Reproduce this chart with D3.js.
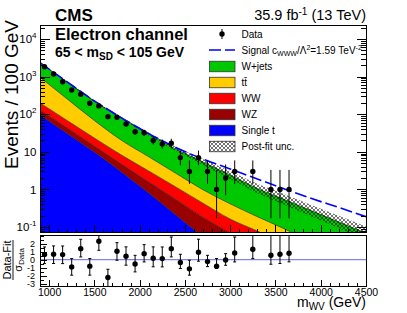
<!DOCTYPE html>
<html>
<head>
<meta charset="utf-8">
<script src="https://cdn.jsdelivr.net/npm/d3@7"></script>
<style>
	body { margin: 0; background: #fff; }
	text { font-family: "Liberation Sans", Arial, Helvetica, sans-serif; }
</style>
</head>
<body>
<svg id="chart" width="407" height="313"></svg>
<script>
// background templates, read at these mass points (GeV)
var massGrid = [900, 1200, 1500, 1800, 2100, 2400, 2700, 3000, 3300, 3600, 3900, 4200, 4500];
var singleT = [95, 30.7, 9.9, 2.9, 0.80, 0.21, 0.054, 0.014, 0.004, 0.001, 0.0003, 0.0001, 0.00003];
var wz      = [34, 12.3, 4.4, 1.8, 0.77, 0.33, 0.125, 0.055, 0.021, 0.008, 0.0027, 0.0009, 0.0004];
var ww      = [70, 25, 9.0, 3.5, 1.53, 0.62, 0.25, 0.094, 0.053, 0.026, 0.012, 0.006, 0.0026];
var ttbar   = [759, 186, 44.7, 12, 4.3, 1.52, 0.55, 0.25, 0.11, 0.054, 0.025, 0.013, 0.007];
var wjets   = [1386, 464, 156, 59, 22.3, 9.2, 4.4, 2.0, 0.87, 0.45, 0.23, 0.116, 0.059];
var signal  = [2350, 720, 226, 80, 30.5, 13.0, 6.4, 3.5, 1.89, 1.03, 0.57, 0.33, 0.188];
var uncRel  = [0.03, 0.04, 0.05, 0.07, 0.10, 0.14, 0.20, 0.27, 0.33, 0.38, 0.42, 0.46, 0.50];

// data, bin centres of 100 GeV bins
var dataMass  = [950, 1050, 1150, 1250, 1350, 1450, 1550, 1650, 1750, 1850, 1950, 2050, 2150, 2250, 2350, 2450, 2550, 2650, 2750, 2850, 2950, 3050, 3250, 3450, 3550, 3650];
var dataCount = [1820, 1170, 727, 440, 338, 195, 166, 86, 83, 55, 34, 32, 20, 16, 17, 7, 3, 7, 3, 1, 2, 3, 3, 1, 1, 1];
var dataErrLo = [42.7, 34.2, 27.0, 21.0, 18.4, 14.0, 12.9, 9.3, 9.1, 7.4, 5.8, 5.6, 4.4, 4.0, 4.1, 2.6, 1.6, 2.6, 1.6, 0.83, 1.3, 1.6, 1.6, 0.83, 0.83, 0.83];
var dataErrHi = [43.2, 34.7, 27.5, 21.5, 18.9, 14.5, 13.4, 10.3, 10.1, 8.5, 6.9, 6.7, 5.5, 5.1, 5.2, 3.8, 2.9, 3.8, 2.9, 2.3, 2.6, 2.9, 2.9, 2.3, 2.3, 2.3];

// (data - fit) / sigma_data
var pullVal   = [0.64, 0.69, 0.64, -0.90, 1.39, -0.81, 2.31, -2.24, 1.06, 0.44, -0.53, 0.76, 0.19, 0.14, 1.39, -0.36, -1.15, 0.94, -0.24, -0.81, -0.03, 0.85, 1.31, 0.56, 0.69, 0.81];
var pullErrUp = [0.96, 1.04, 1.08, 1.04, 1.17, 0.96, 1.0, 1.04, 1.08, 1.17, 1.08, 1.13, 1.42, 1.46, 1.46, 1.04, 1.08, 1.63, 0.79, 0.96, 0.79, 2.0, 2.3, 2.9, 2.9, 2.9];
var pullErrDn = [1.13, 1.17, 1.13, 1.04, 1.04, 1.13, 1.13, 1.17, 1.13, 1.13, 1.0, 1.04, 1.08, 1.04, 1.04, 0.75, 0.79, 1.13, 0.63, 0.29, 0.67, 1.13, 1.17, 1.13, 1.17, 1.08];

// tick labels
var xTicks = [1000, 1500, 2000, 2500, 3000, 3500, 4000, 4500];
var yTickVals = [0.1, 1, 10, 100, 1000, 10000];
var yTickBase = ['10', '1', '10', '10', '10', '10'];
var yTickExp  = ['-1', '', '', '2', '3', '4'];
var pullTicks = [-3, -2, -1, 0, 1, 2];

var svg = d3.select('#chart');
var left = 40, right = 366, mainTop = 25, mainBottom = 232, ratioTop = 235, ratioBottom = 286;

var x = d3.scaleLinear().domain([900, 4500]).range([left, right]);
var y = d3.scaleLog().domain([0.0736, 23550]).range([mainBottom, mainTop]);
var yr = d3.scaleLinear().domain([-3.3, 3.1]).range([ratioBottom, ratioTop]);

var defs = svg.append('defs');
defs.append('clipPath').attr('id', 'clipMain').append('rect')
	.attr('x', left).attr('y', mainTop).attr('width', right - left).attr('height', mainBottom - mainTop);
defs.append('clipPath').attr('id', 'clipRatio').append('rect')
	.attr('x', left).attr('y', ratioTop).attr('width', right - left).attr('height', ratioBottom - ratioTop);
var pat = defs.append('pattern').attr('id', 'hatch').attr('patternUnits', 'userSpaceOnUse')
	.attr('width', 4).attr('height', 4);
pat.append('path').attr('d', 'M0,0L4,4M4,0L0,4').attr('stroke', '#000').attr('stroke-width', 0.55);

// stacked backgrounds
var keys = ['singleT', 'wz', 'ww', 'ttbar', 'wjets'];
var colors = { singleT: '#0000ff', wz: '#990000', ww: '#ff0000', ttbar: '#ffcc00', wjets: '#00c800' };
var rows = massGrid.map(function(m, i) {
	return { m: m, singleT: singleT[i], wz: wz[i], ww: ww[i], ttbar: ttbar[i], wjets: wjets[i] };
});
var series = d3.stack().keys(keys)(rows);
var floor = 1e-4;

var area = d3.area().curve(d3.curveMonotoneX)
	.x(function(d) { return x(d.data.m); })
	.y0(function(d) { return y(Math.max(d[0], floor)); })
	.y1(function(d) { return y(Math.max(d[1], floor)); });
var topLine = d3.line().curve(d3.curveMonotoneX)
	.x(function(d) { return x(d.data.m); })
	.y(function(d) { return y(Math.max(d[1], floor)); });

var plot = svg.append('g').attr('clip-path', 'url(#clipMain)');
plot.selectAll('.layer').data(series).enter().append('path')
	.attr('class', 'layer')
	.attr('d', area)
	.attr('fill', function(d) { return colors[d.key]; });
plot.selectAll('.edge').data(series).enter().append('path')
	.attr('class', 'edge')
	.attr('d', topLine)
	.attr('fill', 'none').attr('stroke', '#1a1a1a').attr('stroke-width', 0.6);

// post-fit uncertainty band
var total = massGrid.map(function(m, i) { return singleT[i] + wz[i] + ww[i] + ttbar[i] + wjets[i]; });
var band = d3.area().curve(d3.curveMonotoneX)
	.x(function(d, i) { return x(massGrid[i]); })
	.y0(function(d, i) { return y(d / (1 + uncRel[i])); })
	.y1(function(d, i) { return y(d * (1 + uncRel[i])); });
plot.append('path').datum(total).attr('d', band).attr('fill', 'url(#hatch)');

// signal
var sigLine = d3.line().curve(d3.curveMonotoneX)
	.x(function(d, i) { return x(massGrid[i]); })
	.y(function(d) { return y(d); });
plot.append('path').datum(signal).attr('d', sigLine)
	.attr('fill', 'none').attr('stroke', '#0000ff').attr('stroke-width', 1.6).attr('stroke-dasharray', '12,4');

// data points
var pts = svg.append('g').attr('clip-path', 'url(#clipMain)');
pts.selectAll('.err').data(dataMass).enter().append('line')
	.attr('x1', function(d) { return x(d); }).attr('x2', function(d) { return x(d); })
	.attr('y1', function(d, i) { return y(dataCount[i] - dataErrLo[i]); })
	.attr('y2', function(d, i) { return y(dataCount[i] + dataErrHi[i]); })
	.attr('stroke', '#000').attr('stroke-width', 1);
pts.selectAll('circle').data(dataMass).enter().append('circle')
	.attr('cx', function(d) { return x(d); })
	.attr('cy', function(d, i) { return y(dataCount[i]); })
	.attr('r', 2.7).attr('fill', '#000');

// ratio panel
var rat = svg.append('g').attr('clip-path', 'url(#clipRatio)');
rat.append('line').attr('x1', left).attr('x2', right).attr('y1', yr(0)).attr('y2', yr(0))
	.attr('stroke', '#6464dc').attr('stroke-width', 1);
rat.selectAll('.rerr').data(dataMass).enter().append('path')
	.attr('d', function(d, i) {
		var px = x(d), a = yr(pullVal[i] + pullErrUp[i]), b = yr(pullVal[i] - pullErrDn[i]);
		return 'M' + px + ',' + a + 'V' + b + 'M' + (px - 1.5) + ',' + a + 'H' + (px + 1.5) + 'M' + (px - 1.5) + ',' + b + 'H' + (px + 1.5);
	})
	.attr('fill', 'none').attr('stroke', '#000').attr('stroke-width', 1);
rat.selectAll('circle').data(dataMass).enter().append('circle')
	.attr('cx', function(d) { return x(d); })
	.attr('cy', function(d, i) { return yr(pullVal[i]); })
	.attr('r', 2.7).attr('fill', '#000');

// axes
function drawAxis(axis, transform, fontSize) {
	var g = svg.append('g').attr('transform', transform).call(axis);
	g.select('.domain').remove();
	g.selectAll('line').attr('stroke', '#000').attr('shape-rendering', 'crispEdges');
	g.selectAll('text').attr('font-size', fontSize || 10).attr('fill', '#000')
		.style('font-family', '"Liberation Sans", Arial, sans-serif');
	return g;
}
var xMinor = d3.range(1000, 4500, 100);
drawAxis(d3.axisBottom(x).tickValues(xTicks).tickSizeInner(-7).tickSizeOuter(0).tickFormat(''), 'translate(0,' + mainBottom + ')');
drawAxis(d3.axisBottom(x).tickValues(xMinor).tickSizeInner(-3.5).tickSizeOuter(0).tickFormat(''), 'translate(0,' + mainBottom + ')');
drawAxis(d3.axisBottom(x).tickValues(xTicks).tickSizeInner(-6).tickSizeOuter(0).tickPadding(2.5)
	.tickFormat(function(d) { return String(d); }), 'translate(0,' + ratioBottom + ')', 10.5);
drawAxis(d3.axisBottom(x).tickValues(xMinor).tickSizeInner(-3).tickSizeOuter(0).tickFormat(''), 'translate(0,' + ratioBottom + ')');

var yMinor = [];
for (var e = -2; e <= 4; e++) {
	for (var k = 2; k <= 9; k++) {
		var v = k * Math.pow(10, e);
		if (v > y.domain()[0] && v < y.domain()[1]) yMinor.push(v);
	}
}
drawAxis(d3.axisLeft(y).tickValues(yTickVals).tickSizeInner(-10).tickSizeOuter(0).tickFormat(''), 'translate(' + left + ',0)');
drawAxis(d3.axisLeft(y).tickValues(yMinor).tickSizeInner(-5).tickSizeOuter(0).tickFormat(''), 'translate(' + left + ',0)');
drawAxis(d3.axisRight(y).tickValues(yTickVals).tickSizeInner(-9).tickSizeOuter(0).tickFormat(''), 'translate(' + right + ',0)');
drawAxis(d3.axisRight(y).tickValues(yMinor).tickSizeInner(-5).tickSizeOuter(0).tickFormat(''), 'translate(' + right + ',0)');

var ylab = svg.append('g').selectAll('text').data(yTickVals).enter().append('text')
	.attr('x', 36.5).attr('y', function(d) { return y(d); }).attr('dy', '0.36em')
	.attr('text-anchor', 'end').attr('font-size', 11.5);
ylab.append('tspan').text(function(d, i) { return yTickBase[i]; });
ylab.filter(function(d, i) { return yTickExp[i] !== ''; }).append('tspan')
	.attr('dy', -5).attr('font-size', 8).text(function(d) { return yTickExp[yTickVals.indexOf(d)]; });

// pull axis labels are tightly packed, as in the original
drawAxis(d3.axisLeft(yr).tickValues(pullTicks).tickSizeInner(-7).tickSizeOuter(0).tickPadding(5)
	.tickFormat(function(d) { return String(d); }), 'translate(' + left + ',0)', 9);
drawAxis(d3.axisLeft(yr).tickValues(d3.range(-3, 3.01, 0.5)).tickSizeInner(-3.5).tickSizeOuter(0).tickFormat(''), 'translate(' + left + ',0)');

// frames
svg.append('rect').attr('x', left).attr('y', mainTop).attr('width', right - left).attr('height', mainBottom - mainTop)
	.attr('fill', 'none').attr('stroke', '#000').attr('stroke-width', 1).attr('shape-rendering', 'crispEdges');
svg.append('rect').attr('x', left).attr('y', ratioTop).attr('width', right - left).attr('height', ratioBottom - ratioTop)
	.attr('fill', 'none').attr('stroke', '#000').attr('stroke-width', 1).attr('shape-rendering', 'crispEdges');

// titles
svg.append('text').attr('x', 55).attr('y', 21).attr('font-size', 17).attr('font-weight', 'bold').text('CMS');
var lumi = svg.append('text').attr('x', 366).attr('y', 20).attr('font-size', 14.5).attr('text-anchor', 'end');
lumi.append('tspan').text('35.9 fb');
lumi.append('tspan').attr('dy', -5).attr('font-size', 10).text('-1');
lumi.append('tspan').attr('dy', 5).text(' (13 TeV)');

svg.append('text').attr('x', 55).attr('y', 40).attr('font-size', 16.5).attr('font-weight', 'bold').text('Electron channel');
var msd = svg.append('text').attr('x', 55).attr('y', 57).attr('font-size', 14).attr('font-weight', 'bold');
msd.append('tspan').text('65 < m');
msd.append('tspan').attr('dy', 3).attr('font-size', 10).text('SD');
msd.append('tspan').attr('dy', -3).text(' < 105 GeV');

svg.append('text').attr('transform', 'translate(18,20) rotate(-90)').attr('text-anchor', 'end')
	.attr('font-size', 19).text('Events / 100 GeV');

var xt = svg.append('text').attr('x', 366).attr('y', 307).attr('font-size', 14).attr('text-anchor', 'end');
xt.append('tspan').text('m');
xt.append('tspan').attr('dy', 3).attr('font-size', 10).text('WV');
xt.append('tspan').attr('dy', -3).text(' (GeV)');

var rt = svg.append('g').attr('transform', 'translate(0,260) rotate(-90)');
rt.append('text').attr('x', 0).attr('y', 11).attr('text-anchor', 'middle').attr('font-size', 11).text('Data-Fit');
rt.append('line').attr('x1', -20).attr('x2', 20).attr('y1', 13).attr('y2', 13).attr('stroke', '#000').attr('stroke-width', 0.9);
var den = rt.append('text').attr('x', 0).attr('y', 21.5).attr('text-anchor', 'middle').attr('font-size', 11);
den.append('tspan').text('\u03c3');
den.append('tspan').attr('dy', 2).attr('font-size', 8).text('Data');

// legend
var legY = [34, 50, 66.5, 82.5, 98.5, 114.5, 130.5, 146.5];
var leg = svg.append('g');
leg.append('line').attr('x1', 222).attr('x2', 222).attr('y1', legY[0] - 5).attr('y2', legY[0] + 5).attr('stroke', '#000');
leg.append('circle').attr('cx', 222).attr('cy', legY[0]).attr('r', 2.7).attr('fill', '#000');
leg.append('line').attr('x1', 209).attr('x2', 235).attr('y1', legY[1]).attr('y2', legY[1])
	.attr('stroke', '#0000ff').attr('stroke-width', 1.6).attr('stroke-dasharray', '12,4');
var boxKeys = ['wjets', 'ttbar', 'ww', 'wz', 'singleT'];
boxKeys.forEach(function(k, i) {
	leg.append('rect').attr('x', 209.5).attr('y', legY[i + 2] - 5.25).attr('width', 25.5).attr('height', 10.5)
		.attr('fill', colors[k]).attr('stroke', '#333').attr('stroke-width', 0.8);
});
leg.append('rect').attr('x', 209.5).attr('y', legY[7] - 5.25).attr('width', 25.5).attr('height', 10.5)
	.attr('fill', 'url(#hatch)').attr('stroke', '#333').attr('stroke-width', 0.8);

function legText(i) {
	return leg.append('text').attr('x', 241.5).attr('y', legY[i]).attr('dy', '0.35em').attr('font-size', 10);
}
legText(0).text('Data');
var sl = legText(1);
sl.append('tspan').text('Signal c');
sl.append('tspan').attr('dy', 2.5).attr('font-size', 7).text('WWW');
sl.append('tspan').attr('dy', -2.5).text('/\u039b');
sl.append('tspan').attr('dy', -4).attr('font-size', 7).text('2');
sl.append('tspan').attr('dy', 4).text('=1.59 TeV');
sl.append('tspan').attr('dy', -4).attr('font-size', 7).text('-2');
legText(2).text('W+jets');
legText(3).text('t\u0074\u0304');
legText(4).text('WW');
legText(5).text('WZ');
legText(6).text('Single t');
legText(7).text('Post-fit unc.');
</script>
</body>
</html>
